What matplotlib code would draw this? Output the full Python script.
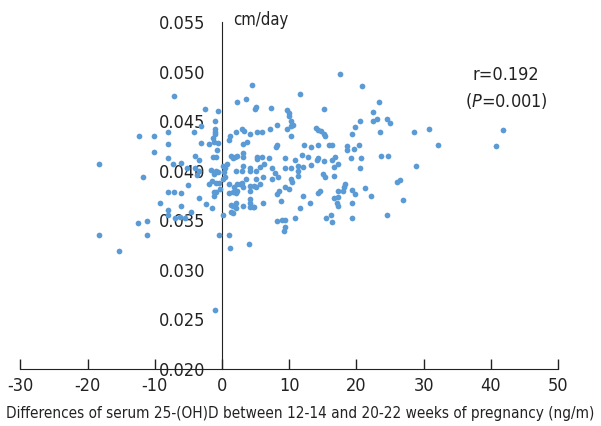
import matplotlib
matplotlib.use('Agg')
import matplotlib.pyplot as plt
from matplotlib import font_manager

# a narrow face is closest to the condensed lettering of the original
narrow = [f for f in font_manager.fontManager.ttflist
          if ('condensed' in f.fname.lower() or 'narrow' in f.fname.lower())
          and f.style == 'normal' and f.weight in (400, 'normal')]
if narrow:
    plt.rcParams['font.family'] = [narrow[0].name, 'DejaVu Sans']
    plt.rcParams['font.stretch'] = narrow[0].stretch
else:
    plt.rcParams['font.family'] = ['Liberation Sans', 'DejaVu Sans']
plt.rcParams['axes.unicode_minus'] = False
plt.rcParams['mathtext.fontset'] = 'dejavusans'

# differences of serum 25-(OH)D (ng/m) vs growth (cm/day)
diff_neg = [-18.3, -18.3, -15.3, -12.3, -10.2, -8.1, -8.1, -10.2, -8.1, -11.7,
            -7.1, -7.3, -6.1, -8.1, -7.1, -6.1, -9.2, -8.0, -8.1, -6.1,
            -7.0, -6.2, -5.5, -12.5, -11.2, -11.2, -4.6, -4.2, -2.6, -0.6,
            -3.1, -1.0, -1.1, -1.0, -1.3, -3.1, -2.0, -1.2, -0.6, -0.7,
            -4.1, -3.4, -1.4, -0.9, -5.2, -4.1, -3.4, -1.6, -0.9, -3.7,
            -1.2, -0.6, -5.1, -2.0, -1.5, -0.9, -0.5, -0.3, -1.2, -0.9,
            -1.2, -3.4, -2.4, -1.5, -0.5, -1.0, -1.0]
rate_neg = [0.0407, 0.0335, 0.0319, 0.0435, 0.0435, 0.0439, 0.0427, 0.0419, 0.0413, 0.0394,
            0.0475, 0.0407, 0.0408, 0.0379, 0.0379, 0.0378, 0.0367, 0.0360, 0.0355, 0.0364,
            0.0352, 0.0353, 0.0352, 0.0347, 0.0349, 0.0335, 0.0358, 0.0439, 0.0462, 0.0460,
            0.0445, 0.0450, 0.0442, 0.0439, 0.0433, 0.0428, 0.0427, 0.0429, 0.0428, 0.0421,
            0.0415, 0.0411, 0.0414, 0.0414, 0.0403, 0.0403, 0.0400, 0.0401, 0.0400, 0.0396,
            0.0397, 0.0399, 0.0386, 0.0387, 0.0390, 0.0388, 0.0388, 0.0382, 0.0379, 0.0379,
            0.0374, 0.0372, 0.0366, 0.0362, 0.0335, 0.0260, 0.0437]

diff_pos = [0.1, 0.4, 0.8, 0.3, 0.4, 0.1, 1.1, 1.1, 1.3, 1.3, 0.1, 1.1, 1.2,
            17.6, 4.4, 11.6, 2.2, 3.5, 5.1, 4.9, 7.3, 9.7, 9.9, 10.0, 15.1,
            10.3, 8.2, 10.6, 10.2, 9.7, 7.2, 14.0, 14.3, 14.7, 15.1, 15.3, 2.9,
            3.2, 2.0, 1.2, 4.1, 5.2, 5.9, 3.7, 3.1, 8.2, 8.1, 10.2, 12.2, 13.2,
            14.3, 15.9, 16.3, 1.3, 1.6, 1.9, 2.2, 3.1, 3.1, 5.2, 5.2, 6.0, 7.0,
            9.4, 10.9, 11.9, 12.8, 14.1, 14.3, 15.1, 16.4, 16.8, 17.2, 2.1, 2.9,
            3.1, 4.1, 4.2, 5.1, 5.7, 6.2, 7.4, 7.9, 9.4, 10.3, 11.3, 11.3, 12.1,
            13.2, 16.6, 11.3, 3.5, 5.1, 6.1, 7.4, 10.3, 15.0, 16.7,
            8.3, 15.3, 10.4, 1.8, 2.2, 2.6, 3.0, 3.1, 4.1, 4.8, 5.1, 5.7, 9.4,
            9.9, 14.3, 14.6, 17.2, 1.1, 1.6, 2.1, 2.2, 8.2, 8.4, 12.0, 16.7, 17.2,
            4.1, 4.1, 8.8, 13.1, 17.1, 17.3, 2.1, 1.7, 3.1, 4.1, 4.6, 4.8, 6.1,
            2.1, 11.6, 1.7, 10.9, 8.2, 8.9, 9.3, 9.4, 9.2, 15.5, 16.2, 16.3, 4.0,
            4.2, 20.8, 23.4, 22.5, 22.4, 23.1, 24.5, 25.0, 20.6, 19.8, 23.5, 19.4,
            28.5, 30.8, 32.1, 18.6, 18.6, 19.6, 20.4, 19.2, 20.7, 23.7, 24.7, 20.6,
            28.9, 26.5, 18.3, 18.2, 18.0, 19.3, 19.8, 21.3, 22.2, 26.1, 19.3, 27.0,
            19.3, 24.5, 41.8, 40.8]
rate_pos = [0.0405, 0.0403, 0.0407, 0.0399, 0.0394, 0.0392, 0.0431, 0.0387, 0.0365, 0.0358, 0.0355, 0.0335, 0.0322,
            0.0498, 0.0486, 0.0477, 0.0469, 0.0472, 0.0464, 0.0462, 0.0463, 0.0461, 0.0458, 0.0455, 0.0462,
            0.0450, 0.0446, 0.0446, 0.0445, 0.0442, 0.0442, 0.0443, 0.0441, 0.0440, 0.0437, 0.0435, 0.0442,
            0.0440, 0.0439, 0.0435, 0.0437, 0.0439, 0.0439, 0.0429, 0.0427, 0.0426, 0.0424, 0.0435, 0.0426, 0.0424,
            0.0426, 0.0426, 0.0426, 0.0415, 0.0413, 0.0414, 0.0415, 0.0418, 0.0414, 0.0414, 0.0412, 0.0414, 0.0413,
            0.0413, 0.0411, 0.0416, 0.0414, 0.0411, 0.0413, 0.0410, 0.0411, 0.0414, 0.0407, 0.0400, 0.0400,
            0.0405, 0.0403, 0.0400, 0.0400, 0.0404, 0.0407, 0.0403, 0.0398, 0.0403, 0.0403, 0.0405, 0.0400, 0.0404,
            0.0406, 0.0404, 0.0395, 0.0392, 0.0392, 0.0394, 0.0392, 0.0392, 0.0397, 0.0395,
            0.0394, 0.0394, 0.0389, 0.0384, 0.0387, 0.0387, 0.0388, 0.0384, 0.0385, 0.0385, 0.0384, 0.0387, 0.0384,
            0.0382, 0.0378, 0.0380, 0.0380, 0.0378, 0.0379, 0.0378, 0.0380, 0.0377, 0.0380, 0.0374, 0.0372, 0.0373,
            0.0371, 0.0367, 0.0369, 0.0367, 0.0367, 0.0364, 0.0367, 0.0364, 0.0364, 0.0363, 0.0363, 0.0363, 0.0367,
            0.0362, 0.0362, 0.0357, 0.0352, 0.0349, 0.0350, 0.0350, 0.0343, 0.0339, 0.0352, 0.0355, 0.0348, 0.0326,
            0.0380, 0.0485, 0.0469, 0.0459, 0.0450, 0.0452, 0.0452, 0.0448, 0.0450, 0.0444, 0.0439, 0.0437,
            0.0439, 0.0442, 0.0426, 0.0425, 0.0421, 0.0422, 0.0426, 0.0413, 0.0413, 0.0415, 0.0415, 0.0403,
            0.0405, 0.0391, 0.0387, 0.0384, 0.0380, 0.0381, 0.0376, 0.0383, 0.0374, 0.0389, 0.0367, 0.0370,
            0.0352, 0.0355, 0.0441, 0.0425]

x = diff_neg + diff_pos
y = rate_neg + rate_pos

x_ticks = [-30, -20, -10, 0, 10, 20, 30, 40, 50]
y_ticks = [0.020, 0.025, 0.030, 0.035, 0.040, 0.045, 0.050, 0.055]

fig = plt.figure(figsize=(6.01, 4.26), dpi=100)
ax = fig.add_axes([0.0341, 0.1338, 0.8944, 0.8146])

ax.scatter(x, y, s=17, color='#5b9bd5', linewidths=0, zorder=3)

ax.set_xlim(-30, 50)
ax.set_ylim(0.020, 0.055)
ax.set_xticks(x_ticks)
ax.set_yticks(y_ticks)
ax.set_yticklabels(['%.3f' % v for v in y_ticks])

ax.spines['top'].set_visible(False)
ax.spines['right'].set_visible(False)
ax.spines['left'].set_position(('data', 0))
ax.spines['left'].set_color('#222222')
ax.spines['bottom'].set_color('#222222')

ax.tick_params(axis='x', direction='in', length=7, width=1, color='#222222',
               labelsize=13, pad=6, labelcolor='#222222')
ax.tick_params(axis='y', length=0, labelsize=13, pad=12, labelcolor='#222222')

# x label is placed as figure text so it can be fitted to the figure width
xlab = fig.text(0.5, 0.03, 'Differences of serum 25-(OH)D between 12-14 and 20-22 weeks of pregnancy (ng/m)',
                fontsize=13, color='#222222', ha='center', va='center')
fig.canvas.draw()
w = xlab.get_window_extent().width
if w > 588:
    xlab.set_fontsize(13 * 588 / w)

ax.text(1.6, 0.0552, 'cm/day', fontsize=12, color='#222222', va='center', ha='left')
ax.text(42.3, 0.0497, 'r=0.192', fontsize=13, color='#222222', va='center', ha='center')
ax.text(42.3, 0.0470, '($\\it{P}$=0.001)', fontsize=13, color='#222222', va='center', ha='center')

fig.savefig('out.png', dpi=100)
